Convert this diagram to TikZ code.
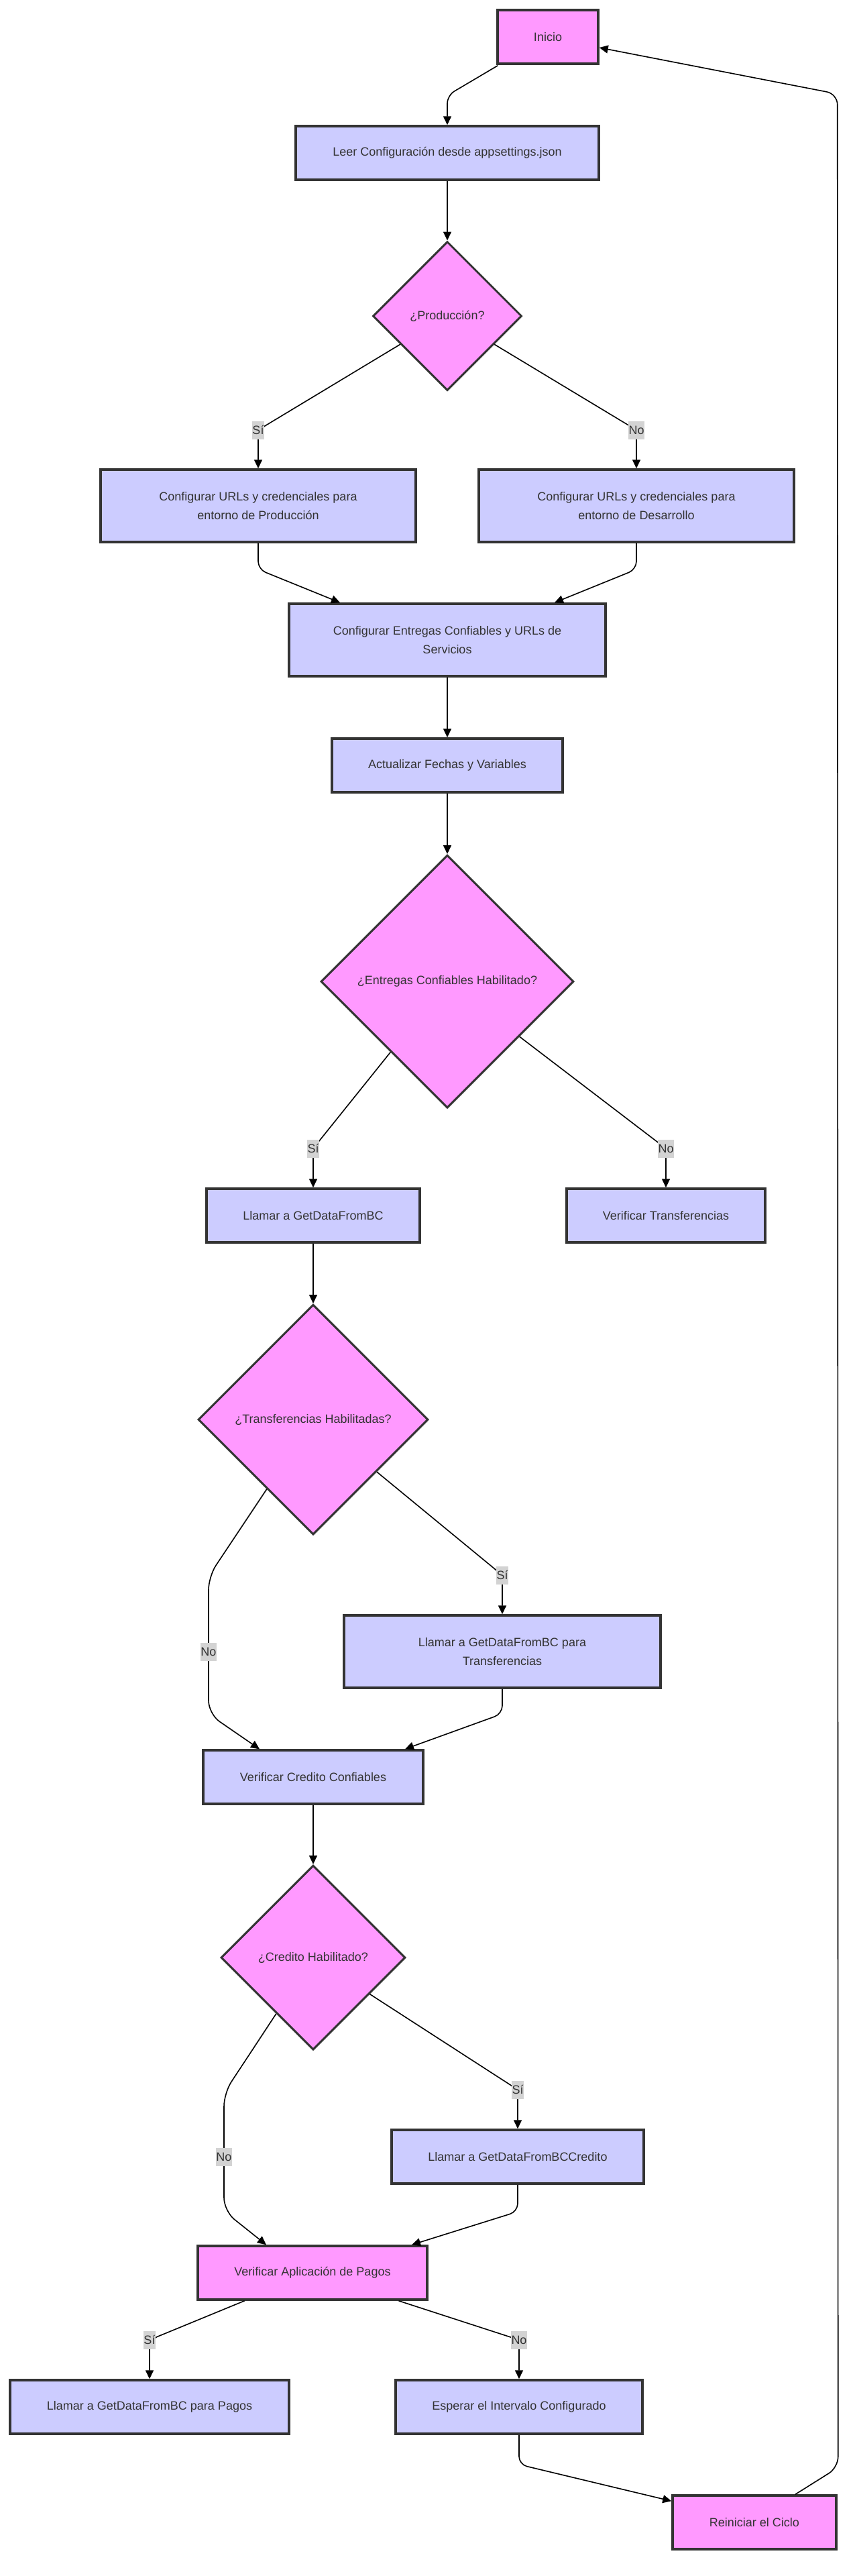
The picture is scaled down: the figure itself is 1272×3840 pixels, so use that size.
\documentclass[tikz,border=0pt]{standalone}
\usepackage{fontspec}
\setmainfont{Liberation Sans}
\usetikzlibrary{shapes.geometric, arrows.meta, calc, shadows}
\definecolor{pinkfill}{HTML}{FF99FF}
\definecolor{bluefill}{HTML}{CCCCFF}
\definecolor{strokegrey}{HTML}{333333}
\definecolor{labelgrey}{HTML}{D3D3D3}
\tikzset{
    every node/.style={font=\fontsize{9pt}{13.75pt}\selectfont, text=strokegrey},
    basebox/.style={draw=strokegrey, line width=1.75pt, align=center, inner sep=0pt,
        drop shadow={opacity=0.12, shadow xshift=0.8pt, shadow yshift=-1.2pt}},
    pinkbox/.style={basebox, fill=pinkfill},
    bluebox/.style={basebox, fill=bluefill},
    decision/.style={basebox, diamond, aspect=1, fill=pinkfill, line width=1.5pt},
    edgelabel/.style={fill=labelgrey, inner xsep=0.2pt, inner ysep=0pt,
        minimum height=13.5pt},
    flow/.style={draw=black, line width=0.8pt, rounded corners=6pt,
        -{Triangle[length=6.5pt, width=6pt]}},
}

\begin{document}
\begin{tikzpicture}[x=0.5pt, y=-0.5pt]
    \path[fill=white] (0,0) rectangle (1272,3840);

    % main column
    \node[pinkbox, minimum width=75pt, minimum height=40pt] (inicio) at (817,55) {Inicio};
    \node[bluebox, minimum width=226pt, minimum height=40pt] (leer) at (667,228)
        {Leer Configuración desde appsettings.json};
    \node[decision, minimum width=111pt, minimum height=111pt] (prod) at (667,471)
        {¿Producción?};
    \node[bluebox, minimum width=235pt, minimum height=54pt] (cfgprod) at (385,754)
        {Configurar URLs y credenciales para\\entorno de Producción};
    \node[bluebox, minimum width=235pt, minimum height=54pt] (cfgdev) at (949,754)
        {Configurar URLs y credenciales para\\entorno de Desarrollo};
    \node[bluebox, minimum width=236pt, minimum height=54pt] (cfgent) at (667,954)
        {Configurar Entregas Confiables y URLs de\\Servicios};
    \node[bluebox, minimum width=172pt, minimum height=40pt] (actual) at (667,1141)
        {Actualizar Fechas y Variables};
    \node[decision, minimum width=188.5pt, minimum height=188.5pt] (entq) at (667,1463)
        {¿Entregas Confiables Habilitado?};
    \node[bluebox, minimum width=159pt, minimum height=40pt] (llamarbc) at (467,1812)
        {Llamar a GetDataFromBC};
    \node[bluebox, minimum width=148pt, minimum height=40pt] (veriftr) at (993,1812)
        {Verificar Transferencias};
    \node[decision, minimum width=171.5pt, minimum height=171.5pt] (trq) at (467,2116)
        {¿Transferencias Habilitadas?};
    \node[bluebox, minimum width=236pt, minimum height=54pt] (llamartr) at (749,2462)
        {Llamar a GetDataFromBC para\\Transferencias};
    \node[bluebox, minimum width=164pt, minimum height=40pt] (verifcr) at (467,2649)
        {Verificar Credito Confiables};
    \node[decision, minimum width=137.5pt, minimum height=137.5pt] (crq) at (467,2918)
        {¿Credito Habilitado?};
    \node[bluebox, minimum width=188pt, minimum height=40pt] (llamarcr) at (772,3215)
        {Llamar a GetDataFromBCCredito};
    \node[pinkbox, minimum width=171pt, minimum height=40pt] (verifpag) at (466,3388)
        {Verificar Aplicación de Pagos};
    \node[bluebox, minimum width=208pt, minimum height=40pt] (llamarpag) at (223,3588)
        {Llamar a GetDataFromBC para Pagos};
    \node[bluebox, minimum width=184pt, minimum height=40pt] (esperar) at (774,3588)
        {Esperar el Intervalo Configurado};
    \node[pinkbox, minimum width=122pt, minimum height=40pt] (reinic) at (1125,3760)
        {Reiniciar el Ciclo};

    % label spots
    \coordinate (siprod) at (385,641);
    \coordinate (nodev) at (949,641);
    \coordinate (sient) at (467,1712);
    \coordinate (noent) at (993,1712);
    \coordinate (sitr) at (749,2348);
    \coordinate (notr) at (311,2462);
    \coordinate (sicr) at (772,3115);
    \coordinate (nocr) at (334,3215);
    \coordinate (sipag) at (223,3488);
    \coordinate (nopag) at (774,3488);

    % connectors
    \draw[flow] ($(inicio.south west)+(2,1)$) -- ($(leer.north)+(0,-44)$) -- (leer.north);
    \draw[flow] (leer) -- (prod);
    \draw[flow] (prod) -- (siprod) -- (cfgprod);
    \draw[flow] (prod) -- (nodev) -- (cfgdev);
    \draw[flow] (cfgprod.south) -- ++(0,39) -- ($(cfgent.north)+(-160,0)$);
    \draw[flow] (cfgdev.south) -- ++(0,39) -- ($(cfgent.north)+(160,0)$);
    \draw[flow] (cfgent) -- (actual);
    \draw[flow] (actual) -- (entq);
    \draw[flow] (entq) -- (sient) -- (llamarbc);
    \draw[flow] (entq) -- (noent) -- (veriftr);
    \draw[flow] (llamarbc) -- (trq);
    \draw[flow] (trq) -- (sitr) -- (llamartr);
    \draw[flow, rounded corners=10pt] (trq) -- ($(notr)+(0,-112)$) -- (notr) -- ++(0,93)
        -- ($(verifcr.north)+(-80,0)$);
    \draw[flow] (llamartr.south) -- ++(0,37) -- ($(verifcr.north)+(137,0)$);
    \draw[flow] (verifcr) -- (crq);
    \draw[flow] (crq) -- (sicr) -- (llamarcr);
    \draw[flow, rounded corners=10pt] (crq) -- ($(nocr)+(0,-95)$) -- (nocr) -- ++(0,81)
        -- ($(verifpag.north)+(-69,0)$);
    \draw[flow] (llamarcr.south) -- ++(0,40) -- ($(verifpag.north)+(148,0)$);
    \draw[flow] (verifpag) -- (sipag) -- (llamarpag);
    \draw[flow] (verifpag) -- (nopag) -- (esperar);
    \draw[flow] (esperar.south) -- ++(0,44) -- ($(reinic.north west)+(0,10)$);
    \draw[flow, rounded corners=8pt] ($(reinic.north)+(61,0)$) -- ($(reinic.north east)+(1,-40)$)
        -- ($(inicio.east)+(355,85)$) -- ($(inicio.east)+(0,16)$);

    % edge labels
    \node[edgelabel] (lsiprod) at (siprod) {Sí};
    \node[edgelabel] (lnodev) at (nodev) {No};
    \node[edgelabel] (lsient) at (sient) {Sí};
    \node[edgelabel] (lnoent) at (noent) {No};
    \node[edgelabel] (lsitr) at (sitr) {Sí};
    \node[edgelabel] (lnotr) at (notr) {No};
    \node[edgelabel] (lsicr) at (sicr) {Sí};
    \node[edgelabel] (lnocr) at (nocr) {No};
    \node[edgelabel] (lsipag) at (sipag) {Sí};
    \node[edgelabel] (lnopag) at (nopag) {No};
\end{tikzpicture}
\end{document}
